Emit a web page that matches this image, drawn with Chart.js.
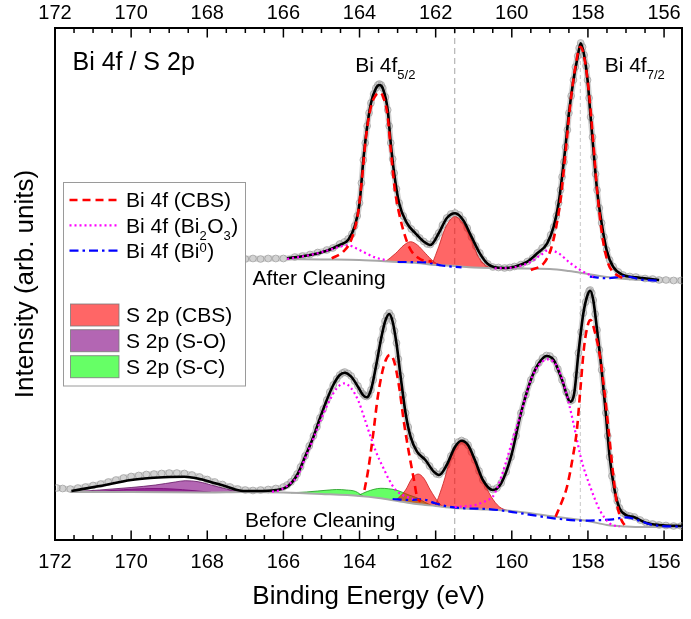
<!DOCTYPE html>
<html><head><meta charset="utf-8">
<script src="https://cdn.jsdelivr.net/npm/chart.js@4.4.1/dist/chart.umd.min.js"></script>
<style>html,body{margin:0;padding:0;background:#fff}canvas{display:block}</style>
</head><body>
<canvas id="c" width="691" height="619"></canvas>
<script>
// ---------- tick labels / ranges ----------
const xTickLabels = [172, 170, 168, 166, 164, 162, 160, 158, 156];
const refEnergies = [161.5, 158.2];

// ---------- AFTER CLEANING (upper spectrum) : [binding energy, intensity] ----------
const afterData = [[167.0,281],[166.8,281.5],[166.6,281],[166.4,281.5],[166.2,281.5],[166.0,281.5],[165.7,283],[165.5,284],[165.3,285.5],[165.1,287.5],[164.86,290],[164.7,292],[164.52,296],[164.4,298],[164.3,301],[164.2,306],[164.13,314],[164.06,324],[164.0,337],[163.95,357],[163.9,380],[163.85,397],[163.8,414],[163.75,427],[163.7,437],[163.63,446],[163.57,452],[163.52,455],[163.48,456],[163.43,455],[163.39,452],[163.32,443],[163.26,430],[163.22,414],[163.18,397],[163.13,381],[163.09,367],[163.03,351],[162.96,337],[162.85,324],[162.75,317],[162.64,311],[162.53,307],[162.42,302],[162.31,298.5],[162.22,296],[162.14,295.5],[162.05,299],[161.98,303],[161.92,307],[161.82,315],[161.71,322],[161.6,326],[161.49,327],[161.38,325],[161.28,320],[161.17,312],[161.06,303],[160.95,294],[160.84,287],[160.74,280],[160.63,276],[160.5,273],[160.35,272.5],[160.19,272],[160.05,272.5],[159.93,273.5],[159.76,275.5],[159.59,278.5],[159.45,282],[159.33,287],[159.2,292],[159.07,297],[158.98,305],[158.9,313],[158.83,324],[158.77,337],[158.72,350],[158.68,363],[158.63,378],[158.59,393],[158.54,410],[158.5,427],[158.44,444],[158.38,460],[158.33,473],[158.27,484],[158.23,492],[158.19,497],[158.14,493],[158.1,485],[158.05,474],[158.01,460],[157.97,442],[157.93,423],[157.88,403],[157.84,383],[157.8,366],[157.76,350],[157.7,332],[157.64,317],[157.58,303],[157.51,290],[157.43,280],[157.34,273.5],[157.2,268],[157.08,265],[156.9,263.5],[156.74,263],[156.5,261.5],[156.3,261],[156.13,260],[155.95,260],[155.75,259.5],[155.55,259.5]];
const afterBackground = [[165.9,281],[165.0,280.5],[164.0,280],[163.0,278],[162.5,277],[162.0,275],[161.5,274],[161.0,272.5],[160.0,271.5],[159.0,271],[158.5,269],[158.0,266],[157.5,263],[157.0,261],[156.5,260],[156.13,259.5]];
const afterEnvelope = [[165.9,281.7],[165.3,285],[164.86,289.3],[164.52,295],[164.3,300],[164.13,313.3],[164.0,336.7],[163.9,380],[163.8,413.3],[163.7,436.7],[163.57,451.7],[163.48,455],[163.39,451.7],[163.26,430],[163.18,396.7],[163.09,366.7],[162.96,336.7],[162.75,316.7],[162.53,306.7],[162.31,298.3],[162.14,295],[161.92,306.7],[161.71,321.7],[161.49,326.7],[161.28,320],[161.06,303.3],[160.84,286.7],[160.63,276],[160.45,272.7],[160.19,272],[159.93,273.3],[159.59,278.3],[159.33,286.7],[159.07,296.7],[158.9,313.3],[158.77,336.7],[158.68,363.3],[158.59,393.3],[158.5,426.7],[158.38,460],[158.27,483.3],[158.19,496.7],[158.1,485],[158.01,460],[157.93,423.3],[157.84,383.3],[157.76,350],[157.64,316.7],[157.51,290],[157.34,273.3],[157.08,265],[156.74,262.7],[156.3,260.7],[156.13,260]];
const afterBiCBS = [[164.73,281.7],[164.43,288.3],[164.22,300],[164.04,326.7],[163.93,363.3],[163.83,403.3],[163.7,433.3],[163.57,445],[163.48,447.3],[163.38,443.3],[163.26,423.3],[163.18,390],[163.07,350],[162.92,320],[162.7,293.3],[162.44,281.7],[162.1,278.3],[161.8,null],[159.5,270],[159.16,276.7],[158.98,290],[158.85,310],[158.72,340],[158.59,386.7],[158.46,436.7],[158.33,473.3],[158.2,493.3],[158.1,483.3],[157.99,453.3],[157.87,403.3],[157.76,350],[157.62,303.3],[157.47,276.7],[157.3,266.7],[157.08,261.7]];
const afterBi2O3 = [[165.9,281],[165.3,285],[164.86,289.3],[164.52,293.3],[164.3,294.7],[164.09,291.7],[163.83,286.7],[163.57,282.3],[163.31,280],[161.0,null],[160.45,271.7],[159.93,272.7],[159.5,278.3],[159.24,285],[159.03,290],[158.77,286.7],[158.46,276.7],[158.2,270],[157.86,263.3]];
const afterBi0 = [[163.0,278],[162.79,278],[162.5,277.8],[162.23,277.5],[161.84,274.5],[161.32,272.7],[160.0,null],[157.95,263.3],[157.47,261.7],[157.2,263],[157.04,264],[156.83,262.5],[156.65,260.7],[156.13,259.3]];
const afterS2pCBS_a = [[163.31,278.6],[163.05,286.7],[162.83,295],[162.66,298.3],[162.48,295],[162.27,286.7],[162.05,278.3],[161.9,274.8]];
const afterS2pCBS_b = [[162.1,275.2],[161.92,293.3],[161.75,311.7],[161.49,323.3],[161.28,316.7],[161.06,300],[160.88,283.3],[160.63,273.3],[160.45,272]];

// ---------- BEFORE CLEANING (lower spectrum) ----------
const beforeData = [[171.95,52],[171.8,51.5],[171.6,51],[171.4,52],[171.2,53],[171.0,54.5],[170.8,56],[170.6,58],[170.4,60],[170.2,62],[170.0,63.5],[169.8,64.5],[169.6,65.5],[169.4,66],[169.2,66.5],[169.0,67],[168.8,67],[168.6,66.5],[168.4,65],[168.2,63],[168.0,60.5],[167.8,58],[167.6,55.5],[167.4,53],[167.2,51],[167.0,50],[166.8,49.5],[166.6,50],[166.4,50.5],[166.2,51.5],[166.0,53],[165.9,55],[165.8,58],[165.7,62],[165.64,66],[165.55,73],[165.43,84],[165.32,94],[165.21,104],[165.12,113],[165.04,122],[164.95,131],[164.86,140],[164.78,148],[164.69,155],[164.6,161],[164.52,165],[164.45,167],[164.39,168],[164.3,166.5],[164.22,164],[164.13,159],[164.04,154],[163.97,149],[163.91,146],[163.86,144],[163.81,143.5],[163.76,145],[163.7,150],[163.64,160],[163.57,174],[163.5,187],[163.44,200],[163.38,211],[163.33,219],[163.28,224],[163.22,227],[163.17,224],[163.13,219],[163.08,209],[163.03,197],[162.98,181],[162.92,164],[162.86,145],[162.79,127],[162.72,113],[162.66,104],[162.58,95],[162.49,89],[162.38,84],[162.27,80],[162.16,74],[162.05,68.5],[161.98,66],[161.91,65.5],[161.81,69],[161.71,75],[161.6,84],[161.49,93.5],[161.4,98],[161.32,99.5],[161.23,98],[161.15,95],[161.06,88],[160.97,80],[160.86,69],[160.76,60],[160.63,53],[160.5,50.5],[160.39,52],[160.28,57],[160.15,68],[160.02,83],[159.89,104],[159.76,127],[159.63,145],[159.5,160],[159.39,170],[159.29,177],[159.19,182],[159.09,184.5],[159.0,184],[158.9,180.5],[158.79,171],[158.68,160],[158.57,148],[158.46,139],[158.41,140],[158.36,147],[158.3,165],[158.25,187],[158.18,208],[158.12,227],[158.06,238],[158.01,245],[157.97,249],[157.94,250],[157.9,247],[157.86,240],[157.81,226],[157.76,210],[157.7,190],[157.64,170],[157.58,148],[157.53,127],[157.48,104],[157.43,83],[157.37,64],[157.3,50],[157.23,39],[157.17,32],[157.08,27],[157.0,25],[156.9,24],[156.78,23],[156.63,20],[156.48,17.5],[156.3,16],[156.13,15],[155.95,14.5],[155.75,14],[155.55,14]];
const beforeBackground = [[171.6,48],[170.0,48],[168.0,47.5],[167.0,48],[166.0,47.5],[165.0,46],[164.0,44],[163.5,42],[163.0,39],[162.5,36],[162.0,34],[161.5,32],[161.0,31],[160.0,29],[159.0,24],[158.5,21.5],[158.0,19],[157.5,15],[157.0,13.5],[156.5,13],[156.0,13],[155.52,13]];
const beforeEnvelope = [[171.57,49],[170.83,54],[170.0,60],[169.5,62],[169.0,63],[168.6,63.3],[168.2,61],[168.0,59],[167.5,53.5],[167.06,49],[166.7,49],[166.2,50],[165.9,53.3],[165.64,65],[165.43,83.3],[165.21,103.3],[165.04,121.7],[164.86,140],[164.69,155],[164.52,165],[164.39,167.3],[164.22,163.3],[164.04,153.3],[163.91,145],[163.81,142.7],[163.7,150],[163.57,173.3],[163.44,200],[163.33,218.3],[163.22,226],[163.13,218.3],[163.03,196.7],[162.92,163.3],[162.79,126.7],[162.66,103.3],[162.49,88.3],[162.27,80],[162.05,68.3],[161.91,65],[161.71,75],[161.49,93.3],[161.32,99.3],[161.15,95],[160.97,80],[160.76,60],[160.5,50],[160.28,56.7],[160.02,83.3],[159.76,126.7],[159.5,160],[159.29,176.7],[159.09,184],[158.9,180],[158.68,160],[158.46,138.3],[158.36,146.7],[158.25,186.7],[158.12,226.7],[158.01,245],[157.94,249.3],[157.86,240],[157.76,210],[157.64,170],[157.53,126.7],[157.43,83.3],[157.3,50],[157.17,31.7],[157.0,25],[156.78,22.7],[156.48,17.3],[156.13,15],[155.52,14]];
const beforeBiCBS = [[163.87,50],[163.78,68.3],[163.65,103.3],[163.52,143.3],[163.39,170],[163.29,181.7],[163.2,185],[163.09,178.3],[162.96,153.3],[162.83,116.7],[162.7,86.7],[162.57,60],[162.49,43.3],[162.4,38.3],[160.0,null],[158.85,23.3],[158.72,35],[158.55,53.3],[158.38,86.7],[158.29,110],[158.2,150],[158.1,193.3],[157.99,216.7],[157.93,220],[157.82,208.3],[157.69,185],[157.56,146.7],[157.44,103.3],[157.34,66.7],[157.24,36.7],[157.12,20],[157.04,15]];
const beforeBi2O3 = [[166.3,48.3],[166.08,50],[165.82,56.7],[165.64,63.3],[165.43,81.7],[165.21,101.7],[165.0,121.7],[164.78,140],[164.6,151.7],[164.39,156.7],[164.22,151.7],[164.04,140],[163.87,121.7],[163.74,106.7],[163.57,88.3],[163.39,73.3],[163.22,60],[163.05,50],[162.87,45],[162.6,41],[162.0,null],[161.5,33],[160.97,35],[160.63,40],[160.5,43.3],[160.37,53.3],[160.19,73.3],[159.98,100],[159.76,126.7],[159.5,160],[159.29,175],[159.04,180.7],[158.81,173.3],[158.59,150],[158.38,116.7],[158.17,80],[157.94,53.3],[157.69,30],[157.43,16.7],[157.17,13.3]];
const beforeBi0 = [[163.13,41],[162.7,40],[162.36,40.7],[162.01,36.7],[161.66,33.3],[161.23,31.7],[160.63,31],[159.76,26.7],[158.9,21.7],[158.05,19.3],[157.6,20],[157.34,20.7],[157.0,22.7],[156.65,19.3],[156.3,15],[155.52,13.3]];
const beforeS2pCBS_a = [[163.05,39.3],[162.79,50],[162.62,61.7],[162.46,66],[162.31,61.7],[162.14,50],[161.92,37.3],[161.8,33.2]];
const beforeS2pCBS_b = [[162.02,34.1],[161.97,38.3],[161.8,56.7],[161.62,80],[161.45,93.3],[161.32,98.3],[161.15,93.3],[160.97,80],[160.76,60],[160.54,43.3],[160.33,33.3],[160.1,29.2]];
const beforeS2pSO_a = [[171.57,48],[170.83,50],[170.0,52.5],[169.36,55],[168.84,58],[168.58,59.3],[168.24,58.3],[167.8,54],[167.38,50],[166.94,48]];
const beforeS2pSO_b = [[171.2,48],[170.5,49.5],[169.9,51],[169.4,51.5],[168.9,51],[168.4,49.5],[167.9,47.8]];
const beforeS2pSC_a = [[165.8,47.2],[165.4,48],[165.1,49],[164.8,50],[164.6,50.5],[164.35,50],[164.1,48.5],[163.9,43.6]];
const beforeS2pSC_b = [[164.05,44.2],[163.8,48.5],[163.44,51.7],[163.05,50],[162.7,45],[162.45,41.5],[162.3,38],[162.1,34.4]];

// ---------- styles ----------
const FONT = '"Liberation Sans", Arial, Helvetica, sans-serif';
function hasFont(name) {
  const c = document.createElement('canvas').getContext('2d');
  c.font = '40px monospace'; const a = c.measureText('172 abcWm').width;
  c.font = '40px "' + name + '", monospace'; const b = c.measureText('172 abcWm').width;
  return Math.abs(a - b) > 0.5;
}
const NARROW = hasFont('Liberation Sans Narrow');
const TICK_FONT = NARROW ? {family: '"Liberation Sans Narrow", ' + FONT, size: 23} : {family: FONT, size: 20};
const TICK_PAD = NARROW ? [8, 1.5] : [10, 3];

const STY = {
  biCBS: {color:'#FF0000', width:2.6, dash:[8,5]},
  biOx:  {color:'#FF00FF', width:2.2, dash:[2,3]},
  bi0:   {color:'#0000FF', width:2.2, dash:[9,4,2.5,4]},
  sCBS:  {fill:'rgba(255,0,0,0.6)', edge:'rgba(200,30,30,0.8)'},
  sSO:   {fill:'rgba(128,0,128,0.6)', edge:'rgba(100,20,100,0.8)'},
  sSC:   {fill:'rgba(0,255,0,0.6)', edge:'rgba(30,150,30,0.8)'}
};

const xy = arr => arr.map(p => ({x: p[0], y: p[1]}));
const datasets = [];
const add = d => { datasets.push(Object.assign({pointRadius:0, pointHoverRadius:0, fill:false, spanGaps:false, cubicInterpolationMode:'monotone'}, d)); return datasets.length - 1; };

// reference lines (bottom-most)
add({data: xy([[refEnergies[0],6],[refEnergies[0],512]]), borderColor:'#B4B4B4', borderWidth:1.2, borderDash:[6,4], order:20, cubicInterpolationMode:'default', tension:0});
add({data: xy([[refEnergies[1],13],[refEnergies[1],497]]), borderColor:'#C8C8C8', borderWidth:1, borderDash:[4,3], order:20, cubicInterpolationMode:'default', tension:0});

// measured data (grey circles)
[afterData, beforeData].forEach(d => add({data: xy(d), borderColor:'rgba(205,205,205,0.9)', borderWidth:6, pointRadius:3.4, pointBorderColor:'rgba(155,155,155,0.75)', pointBackgroundColor:'rgba(255,255,255,0)', pointBorderWidth:1, order:18}));

// backgrounds
const iBgA = add({data: xy(afterBackground), borderColor:'#A8A8A8', borderWidth:2, order:10});
const iBgB = add({data: xy(beforeBackground), borderColor:'#A8A8A8', borderWidth:2, order:10});

// S 2p filled components
const fillDs = (d, s, bg) => add({data: xy(d), borderColor:s.edge, borderWidth:1, backgroundColor:s.fill, fill:bg, order:12});
fillDs(afterS2pCBS_a, STY.sCBS, iBgA);
fillDs(afterS2pCBS_b, STY.sCBS, iBgA);
fillDs(beforeS2pCBS_a, STY.sCBS, iBgB);
fillDs(beforeS2pCBS_b, STY.sCBS, iBgB);
fillDs(beforeS2pSO_a, STY.sSO, iBgB);
fillDs(beforeS2pSO_b, STY.sSO, iBgB);
fillDs(beforeS2pSC_a, STY.sSC, iBgB);
fillDs(beforeS2pSC_b, STY.sSC, iBgB);

// envelopes
[afterEnvelope, beforeEnvelope].forEach(d => add({data: xy(d), borderColor:'#000', borderWidth:2.6, order:8}));

// Bi 4f components
const lineDs = (d, s, o) => add({data: xy(d), borderColor:s.color, borderWidth:s.width, borderDash:s.dash, order:o});
lineDs(afterBi0, STY.bi0, 6); lineDs(beforeBi0, STY.bi0, 6);
lineDs(afterBi2O3, STY.biOx, 5); lineDs(beforeBi2O3, STY.biOx, 5);
lineDs(afterBiCBS, STY.biCBS, 4); lineDs(beforeBiCBS, STY.biCBS, 4);

// ---------- legend & annotation text ----------
const legendItems = [
  {type:'line', s:STY.biCBS, parts:[['Bi 4f (CBS)','']]},
  {type:'line', s:STY.biOx, parts:[['Bi 4f (Bi',''],['2','sub'],['O',''],['3','sub'],[')','']]},
  {type:'line', s:STY.bi0, parts:[['Bi 4f (Bi',''],['0','sup'],[')','']]},
  {type:'box', s:STY.sCBS, parts:[['S 2p (CBS)','']]},
  {type:'box', s:STY.sSO, parts:[['S 2p (S-O)','']]},
  {type:'box', s:STY.sSC, parts:[['S 2p (S-C)','']]}
];
const notes = [
  {parts:[['Bi 4f',''],['5/2','sub']], e:164.11, i:468.3},
  {parts:[['Bi 4f',''],['7/2','sub']], e:157.56, i:468.3},
  {parts:[['After Cleaning','']], e:166.81, i:255},
  {parts:[['Before Cleaning','']], e:167.01, i:12.7}
];

function drawRich(ctx, x, y, parts, size) {
  let cx = x;
  for (const [t, k] of parts) {
    const s = k ? Math.round(size * 0.64) : size;
    ctx.font = s + 'px ' + FONT;
    const dy = k === 'sub' ? size * 0.36 : (k === 'sup' ? -size * 0.3 : 0);
    ctx.fillText(t, cx, y + dy);
    cx += ctx.measureText(t).width + (k ? 0.5 : 0);
  }
}

const decor = {
  id: 'decor',
  afterDatasetsDraw(chart) {
    const {ctx, chartArea: ca, scales} = chart;
    const xs = scales.x, ys = scales.y;
    ctx.save();
    // inward tick marks
    ctx.strokeStyle = '#000'; ctx.lineWidth = 1.5;
    ctx.beginPath();
    for (let k = 312; k <= 344; k++) {
      const px = xs.getPixelForValue(k / 2);
      const len = (k % 4 === 0) ? 9.5 : 5;
      ctx.moveTo(px, ca.bottom); ctx.lineTo(px, ca.bottom - len);
      ctx.moveTo(px, ca.top); ctx.lineTo(px, ca.top + len);
    }
    ctx.stroke();

    ctx.fillStyle = '#000'; ctx.textBaseline = 'alphabetic'; ctx.textAlign = 'left';
    // panel title
    ctx.font = '25px ' + FONT;
    ctx.fillText('Bi 4f / S 2p', ca.left + 17.5, ca.top + 41.5);
    // annotations
    for (const n of notes) drawRich(ctx, xs.getPixelForValue(n.e), ys.getPixelForValue(n.i), n.parts, 21);

    // legend
    const L = ca.left + 8.5, T = 182.5, W = 182, H = 203.5;
    ctx.fillStyle = '#fff'; ctx.fillRect(L, T, W, H);
    ctx.strokeStyle = '#9A9A9A'; ctx.lineWidth = 1; ctx.strokeRect(L, T, W, H);
    const rows = [200, 225.3, 250.7, 315, 340.7, 366.7];
    legendItems.forEach((it, idx) => {
      const cy = rows[idx];
      if (it.type === 'line') {
        ctx.save();
        ctx.strokeStyle = it.s.color; ctx.lineWidth = it.s.width; ctx.setLineDash(it.s.dash);
        ctx.beginPath(); ctx.moveTo(L + 6, cy); ctx.lineTo(L + 56, cy); ctx.stroke();
        ctx.restore();
      } else {
        ctx.fillStyle = it.s.fill; ctx.fillRect(L + 7, cy - 11, 48.5, 22);
        ctx.strokeStyle = 'rgba(120,120,120,0.8)'; ctx.lineWidth = 1; ctx.strokeRect(L + 7, cy - 11, 48.5, 22);
      }
      ctx.fillStyle = '#000';
      drawRich(ctx, L + 62.5, cy + 7.3, it.parts, 21);
    });
    ctx.restore();
  }
};

const xScaleBase = (pos, pad) => ({
  type: 'linear', position: pos, reverse: true, min: 155.52, max: 172,
  grid: {display: false, drawTicks: false},
  border: {display: true, color: '#000', width: 2},
  ticks: {font: TICK_FONT, color: '#000', padding: pad, maxRotation: 0, autoSkip: false},
  afterBuildTicks: s => { s.ticks = xTickLabels.map(v => ({value: v})); }
});

const xBottom = xScaleBase('bottom', TICK_PAD[0]);
xBottom.title = {display: true, text: 'Binding Energy (eV)', color: '#000', font: {family: FONT, size: 26}, padding: {top: 0, bottom: 7}};
xBottom.afterFit = s => { s.height = 79; };
const xTop = xScaleBase('top', TICK_PAD[1]);
xTop.afterFit = s => { s.height = 28; };

new Chart(document.getElementById('c'), {
  type: 'line',
  data: {datasets},
  options: {
    responsive: false, animation: false,
    layout: {padding: 0},
    plugins: {legend: {display: false}, tooltip: {enabled: false}},
    scales: {
      x: xBottom,
      x2: xTop,
      y: {
        type: 'linear', position: 'left', min: 0, max: 512,
        grid: {display: false, drawTicks: false},
        border: {display: true, color: '#000', width: 2},
        ticks: {display: false},
        title: {display: true, text: 'Intensity (arb. units)', color: '#000', font: {family: FONT, size: 26}, padding: {top: 10, bottom: 0}},
        afterFit: s => { s.width = 55; }
      },
      y2: {
        type: 'linear', position: 'right', min: 0, max: 512,
        grid: {display: false, drawTicks: false},
        border: {display: true, color: '#000', width: 2},
        ticks: {display: false},
        afterFit: s => { s.width = 1; }
      }
    }
  },
  plugins: [decor]
});
</script>
</body></html>
